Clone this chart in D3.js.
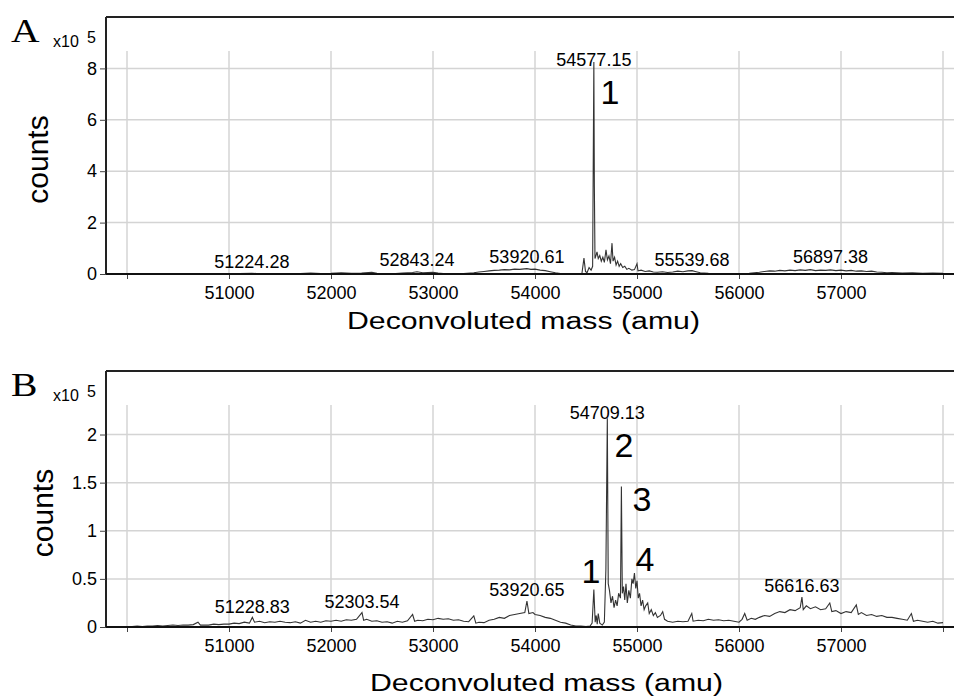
<!DOCTYPE html>
<html lang="en">
<head>
    <meta charset="UTF-8">
    <title>Deconvoluted mass spectra</title>
    <style>
        body { margin: 0; background: #fff; }
        text { font-family: Arial, "Liberation Sans", sans-serif; fill: #000; }
    </style>
</head>
<body>
    <div id="chart"></div>
    <script src="https://d3js.org/d3.v7.min.js"></script>
    <script>
        // ---- data (counts are in units of 1e5) ----
        var xTicks = [50000, 51000, 52000, 53000, 54000, 55000, 56000, 57000, 58000];
        var yTicksA = [0, 2, 4, 6, 8];
        var yTicksB = [0, 0.5, 1, 1.5, 2];

        var massA = [50000, 50100, 50200, 50300, 50400, 50500, 50600, 50700, 50800, 50900,
            51000, 51100, 51224, 51300, 51400, 51500, 51600, 51700, 51800, 51900,
            52000, 52100, 52200, 52300, 52400, 52450, 52500, 52600, 52700, 52800,
            52843, 52900, 53000, 53050, 53100, 53200, 53300, 53400, 53450, 53500,
            53550, 53600, 53650, 53700, 53750, 53800, 53850, 53920, 53960, 54000,
            54050, 54100, 54150, 54200, 54250, 54300, 54400, 54460, 54480, 54495,
            54510, 54530, 54550, 54565, 54577, 54582, 54588, 54600, 54608, 54620,
            54635, 54650, 54665, 54680, 54696, 54710, 54725, 54740, 54755, 54765,
            54780, 54795, 54810, 54825, 54840, 54860, 54880, 54900, 54920, 54950,
            54975, 55000, 55010, 55040, 55080, 55120, 55160, 55200, 55250, 55300,
            55350, 55400, 55450, 55500, 55540, 55580, 55620, 55700, 55800, 55900,
            56000, 56100, 56150, 56200, 56250, 56300, 56350, 56400, 56450, 56500,
            56550, 56600, 56650, 56700, 56750, 56800, 56850, 56897, 56950, 57000,
            57050, 57100, 57150, 57200, 57250, 57300, 57350, 57400, 57450, 57500,
            57600, 57700, 57800, 57900, 58000];
        var countsA = [0.01, 0.01, 0.00, 0.01, 0.01, 0.00, 0.01, 0.01, 0.00, 0.01,
            0.01, 0.02, 0.03, 0.01, 0.01, 0.02, 0.01, 0.02, 0.04, 0.02,
            0.03, 0.05, 0.03, 0.04, 0.07, 0.03, 0.02, 0.01, 0.04, 0.06,
            0.09, 0.05, 0.07, 0.04, 0.02, 0.01, 0.02, 0.05, 0.08, 0.10,
            0.12, 0.14, 0.15, 0.17, 0.16, 0.19, 0.18, 0.21, 0.18, 0.19,
            0.15, 0.13, 0.09, 0.05, 0.02, 0.01, 0.01, 0.02, 0.62, 0.10,
            0.05, 0.25, 0.15, 0.30, 8.25, 3.40, 0.60, 0.75, 0.86, 0.60,
            0.72, 0.50, 0.65, 0.45, 0.94, 0.55, 0.70, 0.40, 1.20, 0.50,
            0.65, 0.35, 0.50, 0.30, 0.40, 0.25, 0.30, 0.18, 0.22, 0.15,
            0.17, 0.40, 0.12, 0.15, 0.10, 0.12, 0.08, 0.07, 0.09, 0.06,
            0.08, 0.11, 0.09, 0.12, 0.13, 0.09, 0.05, 0.03, 0.02, 0.01,
            0.01, 0.03, 0.05, 0.07, 0.10, 0.12, 0.11, 0.14, 0.12, 0.15,
            0.13, 0.16, 0.14, 0.17, 0.13, 0.15, 0.14, 0.16, 0.13, 0.15,
            0.12, 0.14, 0.11, 0.12, 0.10, 0.11, 0.08, 0.07, 0.05, 0.06,
            0.04, 0.05, 0.03, 0.04, 0.03];

        var massB = [50000, 50050, 50100, 50150, 50200, 50250, 50300, 50350, 50400, 50450,
            50500, 50550, 50600, 50650, 50696, 50720, 50800, 50850, 50900, 50950,
            51000, 51050, 51100, 51150, 51200, 51229, 51250, 51300, 51350, 51400,
            51450, 51500, 51550, 51600, 51650, 51700, 51750, 51800, 51850, 51900,
            51950, 52000, 52050, 52100, 52150, 52200, 52250, 52304, 52320, 52350,
            52400, 52450, 52500, 52550, 52600, 52650, 52700, 52750, 52800, 52820,
            52850, 52900, 52950, 53000, 53050, 53100, 53150, 53200, 53250, 53300,
            53350, 53400, 53420, 53450, 53500, 53550, 53600, 53650, 53700, 53750,
            53800, 53850, 53900, 53921, 53940, 53980, 54000, 54050, 54100, 54150,
            54200, 54250, 54300, 54350, 54400, 54450, 54500, 54540, 54560, 54577,
            54590, 54600, 54610, 54620, 54635, 54660, 54680, 54695, 54709, 54718,
            54730, 54745, 54760, 54775, 54790, 54805, 54820, 54838, 54847, 54856,
            54868, 54880, 54892, 54905, 54920, 54935, 54950, 54962, 54975, 54988,
            55000, 55012, 55025, 55040, 55055, 55070, 55085, 55105, 55120, 55140,
            55160, 55180, 55200, 55230, 55252, 55270, 55300, 55350, 55400, 55450,
            55500, 55537, 55550, 55600, 55650, 55700, 55750, 55800, 55850, 55900,
            55950, 56000, 56030, 56056, 56080, 56120, 56160, 56200, 56250, 56300,
            56350, 56400, 56450, 56500, 56550, 56600, 56617, 56630, 56660, 56700,
            56750, 56800, 56850, 56890, 56910, 56950, 57000, 57050, 57100, 57150,
            57170, 57200, 57250, 57300, 57350, 57400, 57450, 57500, 57550, 57600,
            57650, 57690, 57710, 57750, 57800, 57850, 57900, 57950, 58000];
        var countsB = [0.000, 0.005, 0.010, 0.005, 0.010, 0.010, 0.015, 0.010, 0.015, 0.020,
            0.015, 0.020, 0.020, 0.025, 0.050, 0.020, 0.020, 0.030, 0.025, 0.030,
            0.030, 0.040, 0.035, 0.050, 0.040, 0.100, 0.050, 0.060, 0.045, 0.055,
            0.050, 0.060, 0.050, 0.045, 0.055, 0.040, 0.070, 0.050, 0.060, 0.050,
            0.065, 0.060, 0.070, 0.060, 0.075, 0.070, 0.080, 0.150, 0.070, 0.080,
            0.060, 0.065, 0.050, 0.055, 0.040, 0.060, 0.050, 0.065, 0.130, 0.060,
            0.070, 0.065, 0.080, 0.075, 0.090, 0.080, 0.085, 0.070, 0.075, 0.060,
            0.055, 0.115, 0.040, 0.050, 0.045, 0.070, 0.080, 0.100, 0.090, 0.120,
            0.130, 0.140, 0.150, 0.270, 0.140, 0.150, 0.130, 0.120, 0.100, 0.090,
            0.070, 0.050, 0.040, 0.020, 0.010, 0.010, 0.005, 0.010, 0.040, 0.390,
            0.050, 0.120, 0.030, 0.140, 0.040, 0.020, 0.050, 0.600, 2.170, 0.450,
            0.380, 0.250, 0.320, 0.200, 0.280, 0.220, 0.350, 0.300, 1.460, 0.350,
            0.420, 0.280, 0.450, 0.250, 0.380, 0.300, 0.500, 0.450, 0.560, 0.400,
            0.480, 0.300, 0.350, 0.220, 0.280, 0.180, 0.220, 0.250, 0.140, 0.180,
            0.120, 0.150, 0.100, 0.120, 0.160, 0.080, 0.060, 0.050, 0.060, 0.055,
            0.060, 0.140, 0.060, 0.070, 0.065, 0.080, 0.070, 0.075, 0.065, 0.070,
            0.060, 0.050, 0.080, 0.140, 0.070, 0.090, 0.080, 0.100, 0.120, 0.110,
            0.140, 0.160, 0.150, 0.180, 0.170, 0.200, 0.310, 0.180, 0.220, 0.190,
            0.210, 0.180, 0.190, 0.250, 0.160, 0.170, 0.140, 0.160, 0.150, 0.230,
            0.130, 0.150, 0.120, 0.130, 0.110, 0.120, 0.100, 0.100, 0.090, 0.080,
            0.070, 0.140, 0.060, 0.070, 0.060, 0.050, 0.060, 0.040, 0.045];

        // peak annotations: mass, label level (counts), text
        var peakMassA = [51224.28, 52843.24, 53920.61, 54577.15, 55539.68, 56897.38];
        var peakLevelA = [0.23, 0.31, 0.43, 8.09, 0.31, 0.43];
        var peakTextA = ["51224.28", "52843.24", "53920.61", "54577.15", "55539.68", "56897.38"];
        var numMassA = [54735];
        var numLevelA = [6.61];
        var numTextA = ["1"];

        var peakMassB = [51228.83, 52303.54, 53920.65, 54709.13, 56616.63];
        var peakLevelB = [0.145, 0.2, 0.32, 2.16, 0.36];
        var peakTextB = ["51228.83", "52303.54", "53920.65", "54709.13", "56616.63"];
        var numMassB = [54549, 54873, 55049, 55078];
        var numLevelB = [0.457, 1.77, 1.205, 0.58];
        var numTextB = ["1", "2", "3", "4"];

        // ---- layout ----
        var W = 954, H = 698;
        var frameLeft = 106, frameRight = 954;

        var svg = d3.select("#chart").append("svg")
            .attr("width", W)
            .attr("height", H);

        var x = d3.scaleLinear().domain([50000, 58000]).range([127, 943]);

        function drawPanel(opt) {
            var y = d3.scaleLinear().domain([0, opt.yMax]).range([opt.bottom, opt.top]);
            var g = svg.append("g");

            // grid
            g.selectAll(".hgrid").data(opt.yTicks.filter(function(d) { return d > 0; }))
                .enter().append("line")
                .attr("x1", frameLeft).attr("x2", frameRight)
                .attr("y1", function(d) { return y(d); })
                .attr("y2", function(d) { return y(d); })
                .attr("stroke", "#d4d4d4").attr("stroke-width", 1.5);
            g.selectAll(".vgrid").data(xTicks)
                .enter().append("line")
                .attr("x1", function(d) { return x(d); })
                .attr("x2", function(d) { return x(d); })
                .attr("y1", opt.top + 34).attr("y2", opt.bottom)
                .attr("stroke", "#d4d4d4").attr("stroke-width", 1.5);

            // spectrum
            var pts = opt.mass.map(function(m, i) { return [m, opt.counts[i]]; });
            g.append("path")
                .datum(pts)
                .attr("fill", "none")
                .attr("stroke", "#333")
                .attr("stroke-width", 1.1)
                .attr("d", d3.line()
                    .x(function(d) { return x(d[0]); })
                    .y(function(d) { return y(d[1]); }));

            // frame: top, left and bottom
            g.append("line").attr("x1", frameLeft).attr("x2", frameRight)
                .attr("y1", opt.top).attr("y2", opt.top)
                .attr("stroke", "#222").attr("stroke-width", 2);
            g.append("line").attr("x1", frameLeft).attr("x2", frameLeft)
                .attr("y1", opt.top).attr("y2", opt.bottom)
                .attr("stroke", "#222").attr("stroke-width", 2);

            // x axis
            var xAxis = g.append("g")
                .attr("transform", "translate(0," + opt.bottom + ")")
                .call(d3.axisBottom(x).tickValues(xTicks).tickSize(5).tickPadding(7)
                    .tickFormat(function(d) { return (d === 50000 || d === 58000) ? "" : d; }));
            xAxis.select(".domain").remove();
            xAxis.selectAll("line").attr("stroke", "#444");
            xAxis.selectAll("text").style("font-size", "18px").attr("font-family", null);
            g.append("line").attr("x1", frameLeft).attr("x2", frameRight)
                .attr("y1", opt.bottom).attr("y2", opt.bottom)
                .attr("stroke", "#111").attr("stroke-width", 2);

            // y axis
            var yAxis = g.append("g")
                .attr("transform", "translate(" + frameLeft + ",0)")
                .call(d3.axisLeft(y).tickValues(opt.yTicks).tickSize(6).tickPadding(3)
                    .tickFormat(d3.format("~g")));
            yAxis.select(".domain").remove();
            yAxis.selectAll("line").attr("stroke", "#444");
            yAxis.selectAll("text").style("font-size", "18px").attr("font-family", null);

            // x10^5 multiplier
            g.append("text").attr("x", 53).attr("y", opt.top + 30)
                .style("font-size", "16px").text("x10");
            g.append("text").attr("x", 87).attr("y", opt.top + 26)
                .style("font-size", "16px").text("5");

            // panel letter
            g.append("text")
                .attr("transform", "translate(11," + (opt.top + 25) + ") scale(1.2,1)")
                .style("font-family", "'Liberation Serif', 'Times New Roman', serif")
                .style("font-size", "33px").text(opt.letter);

            // axis titles
            g.append("text")
                .attr("transform", "translate(" + opt.countsX + "," + ((opt.top + opt.bottom) / 2 + 14) + ") rotate(-90)")
                .attr("text-anchor", "middle")
                .style("font-size", "30px").text("counts");
            g.append("text")
                .attr("x", opt.titleX).attr("y", opt.titleY)
                .attr("textLength", 353).attr("lengthAdjust", "spacingAndGlyphs")
                .style("font-size", "23px").text("Deconvoluted mass (amu)");

            // peak mass labels
            g.selectAll(".plab").data(opt.peakMass)
                .enter().append("text")
                .attr("x", function(d) { return x(d); })
                .attr("y", function(d, i) { return y(opt.peakLevel[i]); })
                .attr("text-anchor", "middle")
                .style("font-size", "18px")
                .text(function(d, i) { return opt.peakText[i]; });

            // species numbers
            g.selectAll(".nlab").data(opt.numMass)
                .enter().append("text")
                .attr("x", function(d) { return x(d); })
                .attr("y", function(d, i) { return y(opt.numLevel[i]); })
                .attr("text-anchor", "middle")
                .style("font-size", "34px")
                .text(function(d, i) { return opt.numText[i]; });
        }

        drawPanel({
            letter: "A", top: 17, bottom: 274, yMax: 10, yTicks: yTicksA,
            mass: massA, counts: countsA, countsX: 48, titleX: 347, titleY: 329,
            peakMass: peakMassA, peakLevel: peakLevelA, peakText: peakTextA,
            numMass: numMassA, numLevel: numLevelA, numText: numTextA
        });
        drawPanel({
            letter: "B", top: 371, bottom: 627, yMax: 2.66, yTicks: yTicksB,
            mass: massB, counts: countsB, countsX: 53, titleX: 370, titleY: 691,
            peakMass: peakMassB, peakLevel: peakLevelB, peakText: peakTextB,
            numMass: numMassB, numLevel: numLevelB, numText: numTextB
        });
    </script>
</body>
</html>
